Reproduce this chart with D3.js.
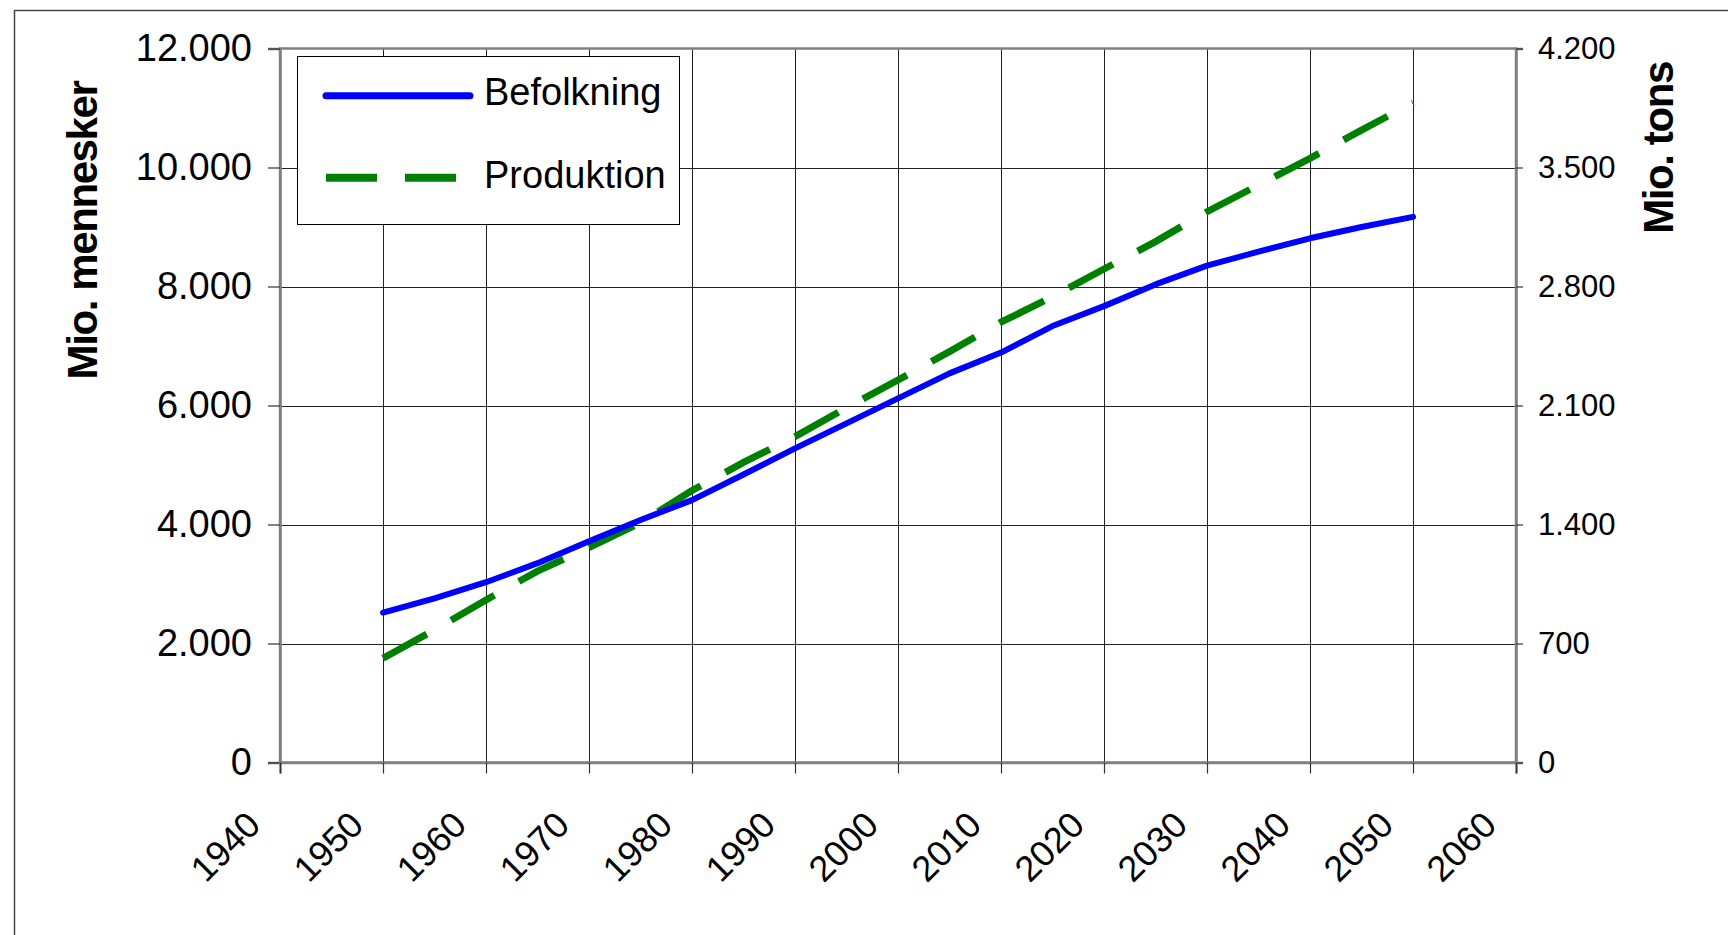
<!DOCTYPE html>
<html>
<head>
<meta charset="utf-8">
<script src="https://cdn.jsdelivr.net/npm/d3@7"></script>
<style>
  body { margin: 0; background: #fff; }
  svg { display: block; font-family: "Liberation Sans", Arial, sans-serif; }
</style>
</head>
<body>
<svg width="1728" height="935"></svg>
<script>
// data
const years = [1950, 1955, 1960, 1965, 1970, 1975, 1980, 1985, 1990, 1995, 2000,
               2005, 2010, 2015, 2020, 2025, 2030, 2035, 2040, 2045, 2050];
const befolkning = [2520, 2760, 3030, 3350, 3720, 4075, 4410, 4840, 5280, 5700, 6120,
                    6540, 6890, 7335, 7670, 8035, 8350, 8585, 8810, 9000, 9170];
const produktion = [613, 780, 956, 1126, 1264, 1410, 1600, 1765, 1917, 2087, 2250,
                    2417, 2590, 2740, 2903, 3064, 3240, 3397, 3554, 3720, 3881];
const xTicks = [1940, 1950, 1960, 1970, 1980, 1990, 2000, 2010, 2020, 2030, 2040, 2050, 2060];
const leftTicks = [0, 2000, 4000, 6000, 8000, 10000, 12000];
const rightTicks = [0, 700, 1400, 2100, 2800, 3500, 4200];

const svg = d3.select("svg");
const plot = {left: 280, right: 1516, top: 48.5, bottom: 762.5};

const da = d3.formatLocale({decimal: ",", thousands: ".", grouping: [3], currency: ["", " kr"]});
const fmt = da.format(",");

const x = d3.scaleLinear().domain([1940, 2060]).range([plot.left, plot.right]);
const yL = d3.scaleLinear().domain([0, 12000]).range([plot.bottom, plot.top]);
const yR = d3.scaleLinear().domain([0, 4200]).range([plot.bottom, plot.top]);

// outer frame (runs off the picture right and bottom)
svg.append("rect")
    .attr("x", 14.5).attr("y", 10.5)
    .attr("width", 1800).attr("height", 1000)
    .attr("fill", "none").attr("stroke", "#444").attr("stroke-width", 1.5);

// grid
const grid = svg.append("g").attr("shape-rendering", "crispEdges");
grid.append("g")
    .attr("transform", `translate(0,${plot.bottom})`)
    .call(d3.axisBottom(x).tickValues(xTicks.slice(1, -1)).tickSize(-(plot.bottom - plot.top)).tickFormat(""))
    .call(g => g.select(".domain").remove())
    .selectAll("line").attr("stroke", "#222");
grid.append("g")
    .attr("transform", `translate(${plot.left},0)`)
    .call(d3.axisLeft(yL).tickValues(leftTicks.slice(1, -1)).tickSize(-(plot.right - plot.left)).tickFormat(""))
    .call(g => g.select(".domain").remove())
    .selectAll("line").attr("stroke", "#222");

// plot frame
svg.append("rect")
    .attr("x", plot.left).attr("y", plot.top)
    .attr("width", plot.right - plot.left).attr("height", plot.bottom - plot.top)
    .attr("fill", "none").attr("stroke", "#808080").attr("stroke-width", 2.5);

// axes
const axL = svg.append("g")
    .attr("transform", `translate(${plot.left},0)`)
    .call(d3.axisLeft(yL).tickValues(leftTicks).tickSize(12).tickPadding(16).tickFormat(fmt));
axL.selectAll("text").style("font-size", "38px").attr("fill", "#000");

const axR = svg.append("g")
    .attr("transform", `translate(${plot.right},0)`)
    .call(d3.axisRight(yR).tickValues(rightTicks).tickSize(7).tickPadding(15).tickFormat(fmt));
axR.selectAll("text").style("font-size", "31px").attr("fill", "#000");

const axB = svg.append("g")
    .attr("transform", `translate(0,${plot.bottom})`)
    .call(d3.axisBottom(x).tickValues(xTicks).tickSize(11).tickFormat(d3.format("d")));
axB.selectAll("text")
    .style("font-size", "36px")
    .attr("fill", "#000")
    .attr("y", 0).attr("dy", 0)
    .attr("text-anchor", "end")
    .attr("transform", "translate(-18,64.5) rotate(-45)");

[axL, axR, axB].forEach(a => {
  a.select(".domain").attr("stroke", "#808080").attr("stroke-width", 2.5);
  a.selectAll(".tick line").attr("stroke", "#333").attr("stroke-width", 1.2);
});

// axis titles
svg.append("text")
    .attr("transform", "translate(97,230.5) rotate(-90)")
    .attr("text-anchor", "middle")
    .style("font-size", "42px").style("font-weight", "bold").style("letter-spacing", "-1.4px")
    .text("Mio. mennesker");
svg.append("text")
    .attr("transform", "translate(1673,148) rotate(-90)")
    .attr("text-anchor", "middle")
    .style("font-size", "42px").style("font-weight", "bold").style("letter-spacing", "-1.4px")
    .text("Mio. tons");

// lines
const lineL = d3.line().x((d, i) => x(years[i])).y(d => yL(d));
const lineR = d3.line().x((d, i) => x(years[i])).y(d => yR(d));

svg.append("path")
    .datum(produktion)
    .attr("d", lineR)
    .attr("fill", "none")
    .attr("stroke", "#008000")
    .attr("stroke-width", 7)
    .attr("stroke-dasharray", "50,28");

svg.append("path")
    .datum(befolkning)
    .attr("d", lineL)
    .attr("fill", "none")
    .attr("stroke", "#0000ff")
    .attr("stroke-width", 6)
    .attr("stroke-linecap", "round")
    .attr("stroke-linejoin", "round");

// legend
const legend = svg.append("g");
legend.append("rect")
    .attr("x", 297.5).attr("y", 56.5).attr("width", 382).attr("height", 168)
    .attr("fill", "#fff").attr("stroke", "#000").attr("stroke-width", 1);
legend.append("line")
    .attr("x1", 326).attr("x2", 470).attr("y1", 95.7).attr("y2", 95.7)
    .attr("stroke", "#0000ff").attr("stroke-width", 7).attr("stroke-linecap", "round");
legend.append("line")
    .attr("x1", 326).attr("x2", 456).attr("y1", 177.7).attr("y2", 177.7)
    .attr("stroke", "#008000").attr("stroke-width", 8).attr("stroke-dasharray", "51,28");
legend.append("text")
    .attr("x", 484).attr("y", 105)
    .style("font-size", "38px")
    .text("Befolkning");
legend.append("text")
    .attr("x", 484).attr("y", 187.7)
    .style("font-size", "38px")
    .text("Produktion");
</script>
</body>
</html>
